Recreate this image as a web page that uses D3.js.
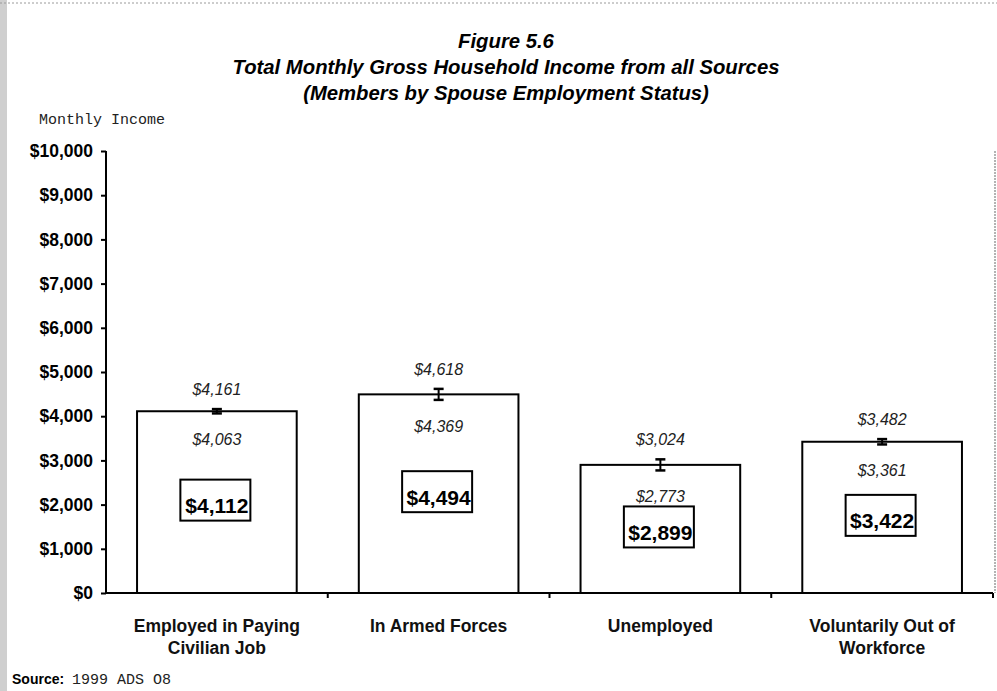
<!DOCTYPE html>
<html>
<head>
<meta charset="utf-8">
<script src="https://cdn.jsdelivr.net/npm/d3@7"></script>
<style>
  html, body { margin: 0; padding: 0; background: #fff; }
  svg { display: block; }
</style>
</head>
<body>
<svg id="chart" width="997" height="691"></svg>
<script>
// ---- Data ----
const categories = ["Employed in Paying Civilian Job", "In Armed Forces", "Unemployed", "Voluntarily Out of Workforce"];
const categoryLines = [["Employed in Paying", "Civilian Job"], ["In Armed Forces"], ["Unemployed"], ["Voluntarily Out of", "Workforce"]];
const means = [4112, 4494, 2899, 3422];
const lowerCI = [4063, 4369, 2773, 3361];
const upperCI = [4161, 4618, 3024, 3482];
const yTicks = [0, 1000, 2000, 3000, 4000, 5000, 6000, 7000, 8000, 9000, 10000];
const titleLines = ["Figure 5.6", "Total Monthly Gross Household Income from all Sources", "(Members by Spouse Employment Status)"];
const yAxisTitle = "Monthly Income";
const sourceLabel = "Source:";
const sourceText = "1999 ADS O8";

(function () {
const rows = categories.map((c, i) => ({ cat: c, lines: categoryLines[i], mean: means[i], lo: lowerCI[i], hi: upperCI[i] }));

const svg = d3.select("#chart");
const W = 997, H = 691;
const pLeft = 106, pRight = 993, pTop = 151, pBottom = 593;

const money = d => "$" + d3.format(",")(d);

// Scan-like border hints
svg.append("rect").attr("x", 0).attr("y", 0).attr("width", 7).attr("height", H).attr("fill", "#cfcfcf");
svg.append("line").attr("x1", 0).attr("x2", W).attr("y1", 3).attr("y2", 3)
  .attr("stroke", "#9a9a9a").attr("stroke-width", 1).attr("stroke-dasharray", "2,2");
svg.append("line").attr("x1", 995).attr("x2", 995).attr("y1", pTop).attr("y2", pBottom)
  .attr("stroke", "#9a9a9a").attr("stroke-width", 1.5).attr("stroke-dasharray", "2,1");

// Scales
const x = d3.scaleBand().domain(categories).range([pLeft, pRight]).paddingInner(0.28).paddingOuter(0.14);
const y = d3.scaleLinear().domain([0, 10000]).range([pBottom, pTop]);

// Title
const titleY = [48, 74, 100];
titleLines.forEach((t, i) => {
  svg.append("text").attr("x", 506).attr("y", titleY[i]).attr("text-anchor", "middle")
    .attr("font-family", "Arial, 'Liberation Sans', sans-serif").attr("font-weight", "bold").attr("font-style", "italic")
    .attr("font-size", 20.3).attr("fill", "#000").text(t);
});

// Y axis title
svg.append("text").attr("x", 39).attr("y", 124)
  .attr("font-family", "'Courier New', 'Liberation Mono', monospace").attr("font-size", 15).attr("fill", "#222")
  .text(yAxisTitle);

// Bars
const g = svg.append("g");
g.selectAll("rect.bar").data(rows).join("rect").attr("class", "bar")
  .attr("x", d => x(d.cat)).attr("width", x.bandwidth())
  .attr("y", d => y(d.mean)).attr("height", d => y(0) - y(d.mean))
  .attr("fill", "#fff").attr("stroke", "#000").attr("stroke-width", 2);

// Error bars
const cx = d => x(d.cat) + x.bandwidth() / 2;
g.selectAll("line.err").data(rows).join("line").attr("class", "err")
  .attr("x1", cx).attr("x2", cx).attr("y1", d => y(d.lo)).attr("y2", d => y(d.hi))
  .attr("stroke", "#000").attr("stroke-width", 2);
["lo", "hi"].forEach(k => {
  g.selectAll("line.cap-" + k).data(rows).join("line").attr("class", "cap-" + k)
    .attr("x1", d => cx(d) - 5).attr("x2", d => cx(d) + 5)
    .attr("y1", d => y(d[k])).attr("y2", d => y(d[k]))
    .attr("stroke", "#000").attr("stroke-width", 2.5);
});

// Boxed mean labels
const boxW = 70, boxH = 41;
g.selectAll("rect.box").data(rows).join("rect").attr("class", "box")
  .attr("x", d => cx(d) - 1.5 - boxW / 2).attr("y", d => y(d.mean / 2) - 2 - boxH / 2)
  .attr("width", boxW).attr("height", boxH)
  .attr("fill", "#fff").attr("stroke", "#000").attr("stroke-width", 2);
g.selectAll("text.mean").data(rows).join("text").attr("class", "mean")
  .attr("x", cx).attr("y", d => y(d.mean / 2) - 2 + 13).attr("text-anchor", "middle")
  .attr("font-family", "Arial, 'Liberation Sans', sans-serif").attr("font-weight", "bold").attr("font-size", 21)
  .attr("fill", "#000").text(d => money(d.mean));

// CI labels
g.selectAll("text.hi").data(rows).join("text").attr("class", "hi")
  .attr("x", cx).attr("y", d => y(d.hi) - 14).attr("text-anchor", "middle")
  .attr("font-family", "Arial, 'Liberation Sans', sans-serif").attr("font-style", "italic").attr("font-size", 16)
  .attr("fill", "#222").text(d => money(d.hi));
g.selectAll("text.lo").data(rows).join("text").attr("class", "lo")
  .attr("x", cx).attr("y", d => y(d.lo) + 32).attr("text-anchor", "middle")
  .attr("font-family", "Arial, 'Liberation Sans', sans-serif").attr("font-style", "italic").attr("font-size", 16)
  .attr("fill", "#222").text(d => money(d.lo));

// Y axis
const yAxis = svg.append("g").attr("transform", `translate(${pLeft},0)`)
  .call(d3.axisLeft(y).tickValues(yTicks).tickFormat(money).tickSize(5).tickPadding(8));
yAxis.select(".domain").attr("stroke", "#000").attr("stroke-width", 2).attr("d", `M0,${pTop}V${pBottom}`);
yAxis.selectAll(".tick line").attr("stroke", "#000").attr("stroke-width", 2);
yAxis.selectAll(".tick text").attr("font-family", "Arial, 'Liberation Sans', sans-serif")
  .attr("font-weight", "bold").attr("font-size", 17.5).attr("fill", "#000");

// X axis
svg.append("line").attr("x1", pLeft).attr("x2", pRight).attr("y1", pBottom).attr("y2", pBottom)
  .attr("stroke", "#000").attr("stroke-width", 2);
const boundaries = categories.map(c => x(c) + x.bandwidth() / 2 + x.step() / 2);
svg.selectAll("line.xtick").data(boundaries).join("line").attr("class", "xtick")
  .attr("x1", d => d).attr("x2", d => d).attr("y1", pBottom).attr("y2", pBottom + 5)
  .attr("stroke", "#000").attr("stroke-width", 2);

// Category labels
rows.forEach(d => {
  const t = svg.append("text").attr("text-anchor", "middle")
    .attr("font-family", "Arial, 'Liberation Sans', sans-serif").attr("font-weight", "bold").attr("font-size", 17.5)
    .attr("fill", "#111");
  d.lines.forEach((ln, i) => {
    t.append("tspan").attr("x", cx(d)).attr("y", 632 + i * 22).text(ln);
  });
});

// Source
svg.append("text").attr("x", 12).attr("y", 684)
  .attr("font-family", "Arial, 'Liberation Sans', sans-serif").attr("font-weight", "bold").attr("font-size", 14)
  .attr("fill", "#000").text(sourceLabel);
svg.append("text").attr("x", 72).attr("y", 684)
  .attr("font-family", "'Courier New', 'Liberation Mono', monospace").attr("font-size", 15)
  .attr("fill", "#222").text(sourceText);
})();
</script>
</body>
</html>
